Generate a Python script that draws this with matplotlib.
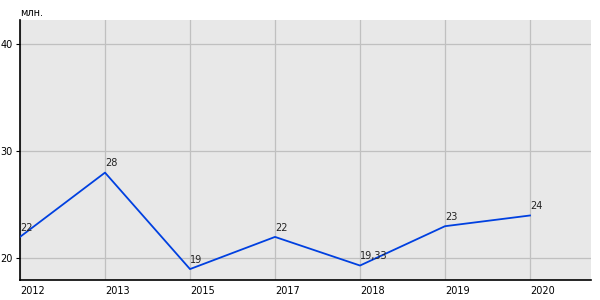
import matplotlib
matplotlib.use('Agg')
import matplotlib.pyplot as plt

# données
years = ['2012', '2013', '2015', '2017', '2018', '2019', '2020']
values = [22, 28, 19, 22, 19.33, 23, 24]
labels = ['22', '28', '19', '22', '19,33', '23', '24']
yticks = [20, 30, 40]

fig = plt.figure(figsize=(6, 3), dpi=100)
ax = fig.add_axes([20/600, 20/300, 571/600, 260/300])
ax.set_facecolor('#e8e8e8')

x = list(range(len(years)))
ax.plot(x, values, color='#0040e0', linewidth=1.3, zorder=3)
for xi, v, lab in zip(x, values, labels):
    ax.annotate(lab, (xi, v), xytext=(0, 3), textcoords='offset points',
                ha='left', va='bottom', fontsize=7, color='#222222', zorder=4)

ax.set_xlim(0, 571/85)
ax.set_ylim(17.98, 42.24)
ax.set_xticks(x)
ax.set_xticklabels(years, ha='left', fontsize=7)
ax.set_yticks(yticks)
ax.set_yticklabels([str(t) for t in yticks], fontsize=7)
ax.grid(True, color='#c0c0c0', linewidth=0.9, zorder=1)
ax.set_axisbelow(True)

ax.tick_params(axis='x', length=0, pad=4)
ax.tick_params(axis='y', length=3, width=0.8, pad=2)
for s in ['top', 'right']:
    ax.spines[s].set_visible(False)
ax.spines['left'].set_linewidth(1.2)
ax.spines['bottom'].set_linewidth(1.2)

fig.text(20/600, 1 - 13/300, 'млн.', fontsize=7, va='center', ha='left')

fig.savefig('out.png', dpi=100)
